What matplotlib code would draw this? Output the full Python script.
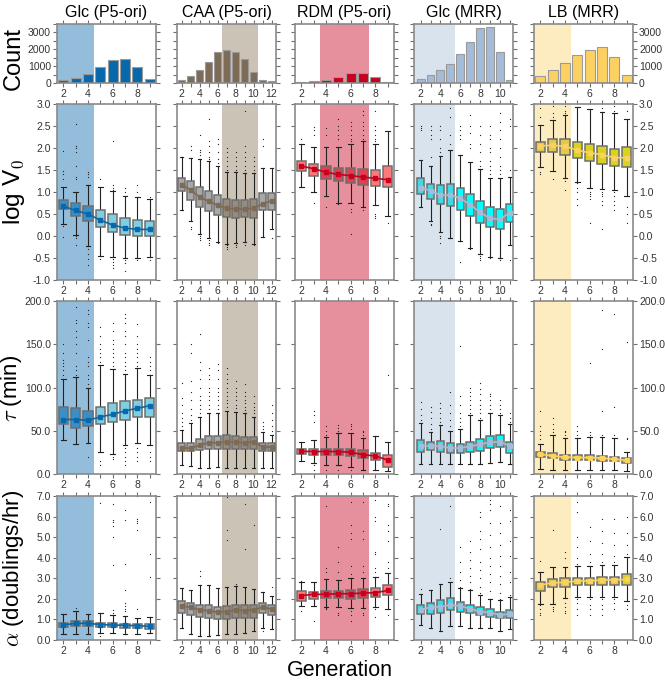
import numpy as np
import matplotlib.pyplot as plt
from matplotlib.ticker import MultipleLocator, FormatStrFormatter

plt.rcParams['font.family'] = ['Liberation Sans', 'DejaVu Sans']
plt.rcParams['mathtext.fontset'] = 'cm'

titles = ['Glc (P5-ori)', 'CAA (P5-ori)', 'RDM (P5-ori)', 'Glc (MRR)', 'LB (MRR)']
row_labels = ['Count', r'log V$_{\mathsf{0}}$', r'$\tau$ (min)', r'$\alpha$ (doublings/hr)']

gens_glc_p5 = list(range(2, 10))
gens_caa_p5 = list(range(2, 13))
gens_rdm_p5 = list(range(2, 10))
gens_glc_mrr = list(range(2, 12))
gens_lb_mrr = list(range(2, 10))

counts_glc_p5 = [150, 280, 550, 950, 1380, 1430, 950, 230]
counts_caa_p5 = [200, 400, 800, 1270, 1830, 1980, 1830, 1430, 680, 170, 100]
counts_rdm_p5 = [60, 120, 200, 380, 620, 580, 380, 80]
counts_glc_mrr = [240, 500, 780, 1100, 1700, 2460, 3260, 3320, 1840, 200]
counts_lb_mrr = [400, 750, 1200, 1650, 1950, 2150, 1550, 450]

# box stats per generation: (whisker low, q1, median, q3, whisker high)
v0_glc_p5 = [(0.27, 0.61, 0.68, 0.82, 1.12), (0.03, 0.46, 0.58, 0.74, 1.01), (-0.22, 0.33, 0.50, 0.68, 1.15),
             (-0.45, 0.21, 0.36, 0.58, 1.12), (-0.47, 0.10, 0.25, 0.50, 1.02), (-0.50, 0.03, 0.18, 0.42, 0.90),
             (-0.50, 0.00, 0.15, 0.36, 0.88), (-0.47, 0.00, 0.15, 0.35, 0.85)]
v0_glc_p5_fliers = [[1.93, 1.48, 1.40, 1.30, 0.22, -0.02], [2.55, 2.05, 2.00, 1.92, 1.60, 1.35, 1.30, 0.00, -0.05, -0.20],
                    [1.45, 1.40, 1.35, -0.30, -0.40, -0.52, -0.65], [1.30, -0.52],
                    [2.15, 1.15, 1.10, 1.05, -0.52, -0.58, -0.65, -0.72], [1.10, 1.00, -0.55, -0.62, -0.80],
                    [1.15, 1.00, -0.55], [0.88, -0.55]]
v0_caa_p5 = [(0.59, 1.02, 1.16, 1.31, 1.79), (0.34, 0.82, 1.05, 1.24, 1.78), (0.04, 0.66, 0.89, 1.12, 1.75),
             (-0.05, 0.56, 0.79, 1.03, 1.70), (-0.13, 0.48, 0.70, 0.93, 1.58), (-0.19, 0.44, 0.63, 0.85, 1.45),
             (-0.15, 0.42, 0.61, 0.82, 1.45), (-0.14, 0.44, 0.61, 0.82, 1.44), (-0.18, 0.40, 0.63, 0.84, 1.44),
             (-0.02, 0.60, 0.73, 0.98, 1.54), (0.15, 0.60, 0.80, 0.98, 1.54)]
v0_caa_p5_fliers = [[1.80], [2.05, 1.95, 0.20, 0.15], [2.30, 1.95, 1.90, 1.85, 0.0, -0.05, -0.10],
                    [2.65, 2.15, 2.05, 1.90, 1.80, 1.75, -0.10, -0.15, -0.20], [2.20, 2.10, 1.90, 1.75, 1.65, -0.15],
                    [2.0, 1.9, 1.8, 1.7, 1.6, 1.5, -0.2, -0.25, -0.3], [1.9, 1.8, 1.7, 1.6, 1.5, -0.2, -0.25],
                    [2.85, 2.05, 1.9, 1.8, 1.7, 1.6, 1.5, -0.2], [1.8, 1.7, 1.6, 1.5, -0.2], [2.2, 2.05], [-0.05]]
v0_rdm_p5 = [(1.12, 1.47, 1.59, 1.70, 2.08), (1.00, 1.36, 1.53, 1.64, 2.02), (0.92, 1.30, 1.45, 1.60, 2.02),
             (0.76, 1.24, 1.40, 1.54, 2.02), (0.75, 1.20, 1.37, 1.55, 2.08), (0.65, 1.17, 1.34, 1.52, 2.16),
             (0.70, 1.14, 1.31, 1.50, 2.10), (0.46, 1.11, 1.28, 1.59, 2.39)]
v0_rdm_p5_fliers = [[2.2], [2.48, 2.4, 2.3, 0.75], [2.45, 2.3, 0.65], [2.65, 2.5, 2.4, 2.3, 2.2, 0.72],
                    [2.6, 2.5, 2.4, 2.3, 2.2, 2.15, 0.62, 0.55, 0.05], [2.85, 2.75, 2.6, 2.5, 2.4, 2.3, 2.2, 0.6],
                    [2.85, 2.5, 2.4, 2.3, 2.2, 2.15, 0.5, 0.45, 0.4], [0.3]]
v0_glc_mrr = [(0.65, 0.95, 1.10, 1.31, 1.73), (0.34, 0.84, 1.03, 1.18, 1.60), (0.08, 0.73, 0.93, 1.15, 1.81),
              (-0.04, 0.68, 0.93, 1.18, 1.95), (-0.11, 0.60, 0.86, 1.09, 1.85), (-0.27, 0.45, 0.71, 0.95, 1.68),
              (-0.40, 0.30, 0.54, 0.80, 1.53), (-0.47, 0.21, 0.40, 0.66, 1.32), (-0.50, 0.15, 0.38, 0.61, 1.32),
              (-0.20, 0.32, 0.53, 0.72, 1.35)]
v0_glc_mrr_fliers = [[2.5, 2.45, 2.4], [2.5, 2.4, 2.3, 2.2, 1.8, 0.28, 0.25],
                     [2.5, 2.4, 2.2, 2.0, 1.9, 0.0, -0.05, -0.15], [2.9, 2.7, 2.3, 2.1, -0.05],
                     [2.5, 2.4, 2.3, 2.2, -0.6], [2.75, 2.5, 2.35, 2.1, 2.0, -0.3],
                     [2.5, 2.3, 2.1, 1.9, 1.7, 1.6, -0.45, -0.5, -0.55],
                     [2.5, 2.3, 2.2, 2.0, 1.9, 1.7, 1.6, 1.5, 1.4, -0.5],
                     [2.8, 2.6, 2.4, 2.2, 2.0, 1.8, 1.6, 1.5, 1.4, -0.55], [2.65, 2.5, 1.5, -0.55]]
v0_lb_mrr = [(1.56, 1.91, 2.05, 2.14, 2.52), (1.47, 1.91, 2.06, 2.21, 2.63), (1.32, 1.85, 2.04, 2.21, 2.75),
             (1.22, 1.78, 1.95, 2.14, 2.94), (1.10, 1.70, 1.89, 2.10, 2.88), (1.07, 1.64, 1.85, 2.05, 2.82),
             (1.05, 1.60, 1.78, 1.97, 2.79), (0.92, 1.56, 1.78, 2.02, 2.67)]
v0_lb_mrr_fliers = [[2.9, 2.7, 1.45, 1.4], [2.95, 2.8, 2.7, 1.3], [2.95, 2.85, 2.8, 1.25, 1.05],
                    [1.2, 1.1, 1.0, 0.85, 0.7], [1.0, 0.95, 0.9, 0.85, 0.3], [2.9, 1.0, 0.95, 0.9, 0.8, 0.7, 0.17],
                    [2.95, 2.85, 1.0, 0.9, 0.8, 0.7, 0.6], [2.85, 0.65, 0.5, 0.3]]

tau_glc_p5 = [(39, 57.5, 63, 78, 110), (35, 53, 63, 76, 112), (36, 55, 62, 73, 99), (25, 57.5, 66, 78, 126),
              (23, 60.5, 69, 82.5, 121), (34, 63, 73, 84, 116), (36, 66, 76, 86, 122), (34, 66, 79, 88, 114)]
tau_glc_p5_fliers = [[115, 120, 125, 128, 132, 140, 150], [115, 120, 125, 140, 150, 158, 165, 175, 178, 193],
                     [104, 110, 115, 125, 130, 135, 155, 170, 175, 185, 190, 20],
                     [130, 135, 140, 145, 150, 160, 170, 15, 10], [125, 130, 135, 140, 145, 150, 155, 165, 175, 20, 17],
                     [120, 125, 130, 135, 140, 150, 160, 165, 175, 180, 185, 30, 25, 20, 15, 10],
                     [125, 130, 135, 140, 145, 150, 160, 173, 30, 25, 20, 15], [115, 120, 125, 130, 135, 25, 20, 15]]
tau_caa_p5 = [(10, 26.6, 29.7, 36.2, 51), (9, 26.6, 30, 36.2, 58.6), (7, 27.7, 33.2, 40.8, 65.5),
              (7, 29.2, 36.2, 44, 70), (8, 29, 36, 44, 71), (7, 29.2, 37, 45.1, 73), (7, 28.8, 37, 44.4, 72),
              (7, 28.4, 36, 43.2, 70), (7, 28.4, 37, 42.5, 66), (7, 26.6, 31.6, 36.2, 49), (7, 26.6, 30.9, 36, 45)]
tau_caa_p5_fliers = [[55, 60, 65, 70, 80, 88, 105], [62, 68, 75, 85, 95, 108, 140, 150],
                     [70, 75, 80, 85, 90, 100, 110, 120, 130, 162], [75, 80, 85, 90, 95, 100, 110, 115, 122],
                     [75, 80, 85, 90, 95, 100, 110, 120, 127], [78, 82, 86, 90, 95, 100, 105, 110, 116, 123],
                     [76, 80, 85, 90, 95, 100, 108], [74, 78, 82, 86, 90, 95, 104], [70, 74, 78, 82, 90],
                     [52, 56, 60], [50, 55, 62, 70, 80]]
tau_rdm_p5 = [(15.4, 23.1, 26.2, 29.3, 37), (13, 22, 26, 29.3, 39.3), (10.4, 22.3, 26, 29, 42.4),
              (10.4, 22, 26, 29, 47), (8.5, 20.3, 25.1, 29.3, 47), (4.6, 18.2, 22.3, 27.8, 41.7),
              (4.6, 16.1, 20.8, 24.6, 44), (4, 7.7, 16, 22, 37.4)]
tau_rdm_p5_fliers = [[], [60, 68, 73, 10, 5], [45, 50, 55, 5], [50, 53, 57, 5], [52, 55, 58, 5], [45, 48, 50],
                     [], [115]]
tau_glc_mrr = [(12, 25.8, 32.8, 39.3, 59.4), (12, 27.7, 32.4, 36.6, 49), (12, 25.8, 32, 38, 56.6),
               (12, 24, 30, 35.4, 49.5), (12, 24, 30, 35, 52.5), (12, 25.4, 32, 36.6, 68), (12, 27, 34.3, 40, 62.8),
               (13, 29.8, 36.6, 44, 70), (14, 31, 37.3, 45.1, 68), (12, 24.6, 32.4, 37.3, 57.8)]
tau_glc_mrr_fliers = [[62, 68, 75, 83], [52, 58, 65, 72, 77], [60, 65, 70, 76, 82], [55, 62, 70, 80, 95],
                      [55, 60, 65, 70, 80, 90, 148], [70, 75, 80, 85, 90, 95, 100],
                      [65, 70, 75, 80, 85, 92, 98, 105], [75, 80, 85, 90, 93], [70, 75, 80, 85], [60, 65, 70]]
tau_lb_mrr = [(6, 19.3, 22.8, 25.8, 34.7), (5, 18.5, 21, 24, 45), (5, 16.7, 19.5, 22.3, 41.6),
              (5, 16, 19, 22, 41.6), (5, 16, 19, 21.5, 43), (5, 15.5, 18.5, 21, 43), (5, 14.5, 17, 19.5, 41.6),
              (4, 12.5, 16, 18.5, 25.8)]
tau_lb_mrr_fliers = [[40, 45, 50, 55, 73], [48, 52, 58, 65], [45, 48, 50], [45, 50, 55], [45, 48, 128],
                     [45, 73, 145, 190], [45, 78, 185], [40, 42, 153]]

alpha_glc_p5 = [(0.28, 0.62, 0.73, 0.84, 1.26), (0.28, 0.68, 0.81, 0.94, 1.40), (0.30, 0.67, 0.81, 0.90, 1.26),
                (0.33, 0.65, 0.75, 0.84, 1.33), (0.33, 0.62, 0.73, 0.84, 1.22), (0.30, 0.60, 0.71, 0.80, 1.15),
                (0.30, 0.60, 0.70, 0.80, 1.07), (0.33, 0.55, 0.66, 0.78, 1.12)]
alpha_glc_p5_fliers = [[], [1.55], [], [6.65, 0.2], [6.6, 5.85, 5.75, 5.55, 5.0, 3.65, 1.45, 1.3],
                       [6.3, 5.85, 3.7, 2.45, 1.8, 1.65, 1.5, 1.4], [7.0, 5.9, 5.8, 5.7, 5.35, 1.5], [6.7, 4.2, 3.05]]
alpha_caa_p5 = [(0.57, 1.30, 1.65, 1.91, 2.51), (0.30, 1.22, 1.59, 1.81, 2.43), (0.20, 1.13, 1.46, 1.70, 2.67),
                (0.20, 1.08, 1.42, 1.70, 2.67), (0.25, 1.00, 1.35, 1.62, 2.51), (0.30, 1.00, 1.38, 1.65, 2.60),
                (0.30, 1.05, 1.46, 1.70, 2.62), (0.33, 1.05, 1.42, 1.70, 2.60), (0.45, 1.08, 1.46, 1.70, 2.46),
                (0.57, 1.30, 1.59, 1.81, 2.35), (0.53, 1.20, 1.50, 1.70, 2.14)]
alpha_caa_p5_fliers = [[], [], [3.35, 3.1], [], [], [5.35, 4.85, 6.95], [2.7], [6.6, 4.4], [5.6], [0.45], [2.6]]
alpha_rdm_p5 = [(1.65, 1.91, 2.16, 2.40, 2.84), (1.65, 2.00, 2.22, 2.35, 2.80), (1.60, 2.03, 2.22, 2.40, 2.95),
                (1.60, 2.03, 2.25, 2.40, 2.92), (1.55, 1.98, 2.25, 2.43, 3.00), (1.55, 2.03, 2.28, 2.46, 3.00),
                (1.60, 2.10, 2.30, 2.51, 3.08), (1.50, 2.19, 2.41, 2.67, 3.24)]
alpha_rdm_p5_fliers = [[2.85, 1.4], [0.9], [6.5, 3.5, 3.3, 1.55, 1.5], [4.5, 3.8, 3.3, 1.3, 1.2],
                       [6.7, 5.6, 5.2, 4.9, 3.6, 3.2, 1.4, 1.2, 0.9], [6.7, 5.3, 4.9, 3.6, 3.3, 1.3, 1.2],
                       [6.8, 6.0, 5.8, 4.3, 4.2, 3.5, 3.3, 1.5, 1.1], [6.6, 6.5, 5.6, 5.3, 4.8, 3.8, 3.5, 1.2]]
alpha_glc_mrr = [(0.73, 1.26, 1.48, 1.70, 2.24), (0.57, 1.26, 1.59, 1.81, 2.43), (0.44, 1.33, 1.62, 1.94, 2.72),
                 (0.68, 1.46, 1.70, 2.03, 2.84), (0.68, 1.38, 1.65, 1.85, 2.51), (0.60, 1.30, 1.52, 1.70, 2.43),
                 (0.57, 1.22, 1.38, 1.59, 2.19), (0.57, 1.13, 1.33, 1.49, 1.98), (0.45, 1.05, 1.22, 1.38, 1.94),
                 (0.53, 1.05, 1.26, 1.46, 2.11)]
alpha_glc_mrr_fliers = [[2.5], [], [5.4], [6.5, 3.0], [4.5, 3.8, 3.3, 2.9, 2.6], [4.8, 4.3, 3.9, 3.5, 3.1, 2.8, 2.5],
                        [6.2, 6.0, 5.3, 4.9, 4.4, 3.8, 3.4, 3.0, 2.6, 2.3],
                        [6.8, 6.6, 6.3, 5.7, 5.1, 4.5, 4.0, 3.6, 3.2, 2.8, 2.4, 2.0],
                        [6.5, 5.7, 5.2, 4.6, 4.1, 3.6, 3.1, 2.7, 2.3, 2.0], [6.3, 5.8, 4.8, 4.1, 3.3, 2.8, 2.2]]
alpha_lb_mrr = [(1.73, 2.40, 2.67, 2.84, 3.32), (1.75, 2.59, 2.78, 2.95, 3.55), (2.03, 2.59, 2.80, 3.00, 3.55),
                (2.11, 2.68, 2.87, 3.00, 3.60), (2.11, 2.68, 2.87, 3.03, 3.60), (2.11, 2.68, 2.92, 3.08, 3.65),
                (2.11, 2.68, 2.92, 3.08, 3.65), (1.91, 2.67, 2.95, 3.19, 4.02)]
alpha_lb_mrr_fliers = [[3.85, 1.7, 1.5, 1.3, 1.2], [5.35, 1.6, 1.5, 1.4], [4.3, 4.0, 1.8, 1.6, 1.4, 1.3],
                       [6.7, 6.2, 5.0, 4.5, 4.0, 3.7, 2.0, 1.8, 1.5, 1.2], [5.5, 4.8, 4.2, 3.8, 2.0, 1.7, 1.5, 1.2],
                       [5.9, 5.3, 4.7, 4.2, 3.8, 2.0, 1.7, 1.5, 1.2], [5.9, 5.2, 4.6, 4.1, 3.8, 2.0, 1.8, 1.5],
                       [6.0, 5.2, 4.6, 4.2, 1.7, 1.5]]

gens = [gens_glc_p5, gens_caa_p5, gens_rdm_p5, gens_glc_mrr, gens_lb_mrr]
counts = [counts_glc_p5, counts_caa_p5, counts_rdm_p5, counts_glc_mrr, counts_lb_mrr]
stats = [[v0_glc_p5, v0_caa_p5, v0_rdm_p5, v0_glc_mrr, v0_lb_mrr],
         [tau_glc_p5, tau_caa_p5, tau_rdm_p5, tau_glc_mrr, tau_lb_mrr],
         [alpha_glc_p5, alpha_caa_p5, alpha_rdm_p5, alpha_glc_mrr, alpha_lb_mrr]]
fliers = [[v0_glc_p5_fliers, v0_caa_p5_fliers, v0_rdm_p5_fliers, v0_glc_mrr_fliers, v0_lb_mrr_fliers],
          [tau_glc_p5_fliers, tau_caa_p5_fliers, tau_rdm_p5_fliers, tau_glc_mrr_fliers, tau_lb_mrr_fliers],
          [alpha_glc_p5_fliers, alpha_caa_p5_fliers, alpha_rdm_p5_fliers, alpha_glc_mrr_fliers, alpha_lb_mrr_fliers]]

shade_colors = ['#94bcdb', '#cbc3b6', '#e7909d', '#d9e3ed', '#fdecc0']
bar_colors = ['#0868ac', '#7d6b55', '#c8001f', '#a5bcd8', '#fdd062']
box_in = ['#3c8fc4', '#978b7e', '#e0404f', '#40d8e6', '#e3c84a']
box_out = ['#7ecfe3', '#a8a8a8', '#fb7b7b', '#00ffff', '#d9d21f']
xlims = [(1.5, 9.5), (1.5, 12.5), (1.5, 9.5), (1.33, 11.33), (1.5, 9.5)]
shade_span = [(1.5, 4.5), (6.5, 10.5), (3.5, 7.5), (1.33, 5.5), (1.5, 4.5)]

ylims = [(0, 3500), (-1, 3), (0, 200), (0, 7)]
ymajor = [1000, 0.5, 50, 1.0]
yminor = [500, 0.5, 50, 1.0]
yfmt = ['%d', '%.1f', '%.1f', '%.1f']

W, H = 665, 681
col_left = [57, 177, 295, 414, 534]
col_w = 99
row_top = [24, 104, 301, 496]
row_bot = [83, 280, 474, 640]

fig = plt.figure(figsize=(W / 100, H / 100), dpi=100)

for r in range(4):
    for c in range(5):
        ax = fig.add_axes([col_left[c] / W, 1 - row_bot[r] / H, col_w / W, (row_bot[r] - row_top[r]) / H])
        g = gens[c]
        ax.axvspan(*shade_span[c], color=shade_colors[c], lw=0, zorder=0)
        if r == 0:
            ax.bar(g, counts[c], width=0.8, color=bar_colors[c], edgecolor='#9a9a9a', lw=0.8, zorder=2)
            ax.set_title(titles[c], fontsize=11.5, pad=5)
        else:
            st = stats[r - 1][c]
            fl = fliers[r - 1][c]
            bxs = []
            for s, f in zip(st, fl):
                bxs.append(dict(whislo=s[0], q1=s[1], med=s[2], q3=s[3], whishi=s[4], fliers=f))
            art = ax.bxp(bxs, positions=g, widths=0.75, patch_artist=True, manage_ticks=False,
                         boxprops=dict(edgecolor='#6e6e6e', lw=1.1),
                         whiskerprops=dict(color='#222222', lw=0.8),
                         capprops=dict(color='#222222', lw=0.8),
                         medianprops=dict(visible=False),
                         flierprops=dict(marker='.', markersize=1.8, markerfacecolor='#222222',
                                         markeredgecolor='none', linestyle='none'))
            for gi, patch in zip(g, art['boxes']):
                inside = shade_span[c][0] <= gi <= shade_span[c][1]
                patch.set_facecolor(box_in[c] if inside else box_out[c])
                patch.set_zorder(3)
            meds = [s[2] for s in st]
            ax.plot(g, meds, '-s', color=bar_colors[c], lw=1.2, ms=2.8, zorder=5)

        ax.set_xlim(*xlims[c])
        ax.set_ylim(*ylims[r])
        ax.set_xticks(range(2, g[-1] + 1, 2))
        ax.xaxis.set_minor_locator(MultipleLocator(1))
        ax.yaxis.set_major_locator(MultipleLocator(ymajor[r]))
        ax.yaxis.set_minor_locator(MultipleLocator(yminor[r]))
        ax.yaxis.set_major_formatter(FormatStrFormatter(yfmt[r]))
        ax.tick_params(which='both', direction='out', top=True, right=True, length=3.2, width=0.8,
                       color='#6e6e6e', labelsize=7.5, labelcolor='#333333', pad=1.2)
        ax.tick_params(axis='y', labelleft=(c == 0), labelright=(c == 4))
        for sp in ax.spines.values():
            sp.set_color('#8a8a8a')
            sp.set_linewidth(1.2)

row_centers = [58, 192, 388, 568]
row_x = [14, 14, 12, 14]
row_sizes = [17, 17.5, 16, 16]
for r in range(4):
    fig.text(row_x[r] / W, 1 - row_centers[r] / H, row_labels[r], rotation=90, fontsize=row_sizes[r],
             ha='center', va='center')

fig.text(340 / W, 1 - 676 / H, 'Generation', fontsize=15.5, ha='center', va='baseline')

fig.savefig('out.png', dpi=100)
